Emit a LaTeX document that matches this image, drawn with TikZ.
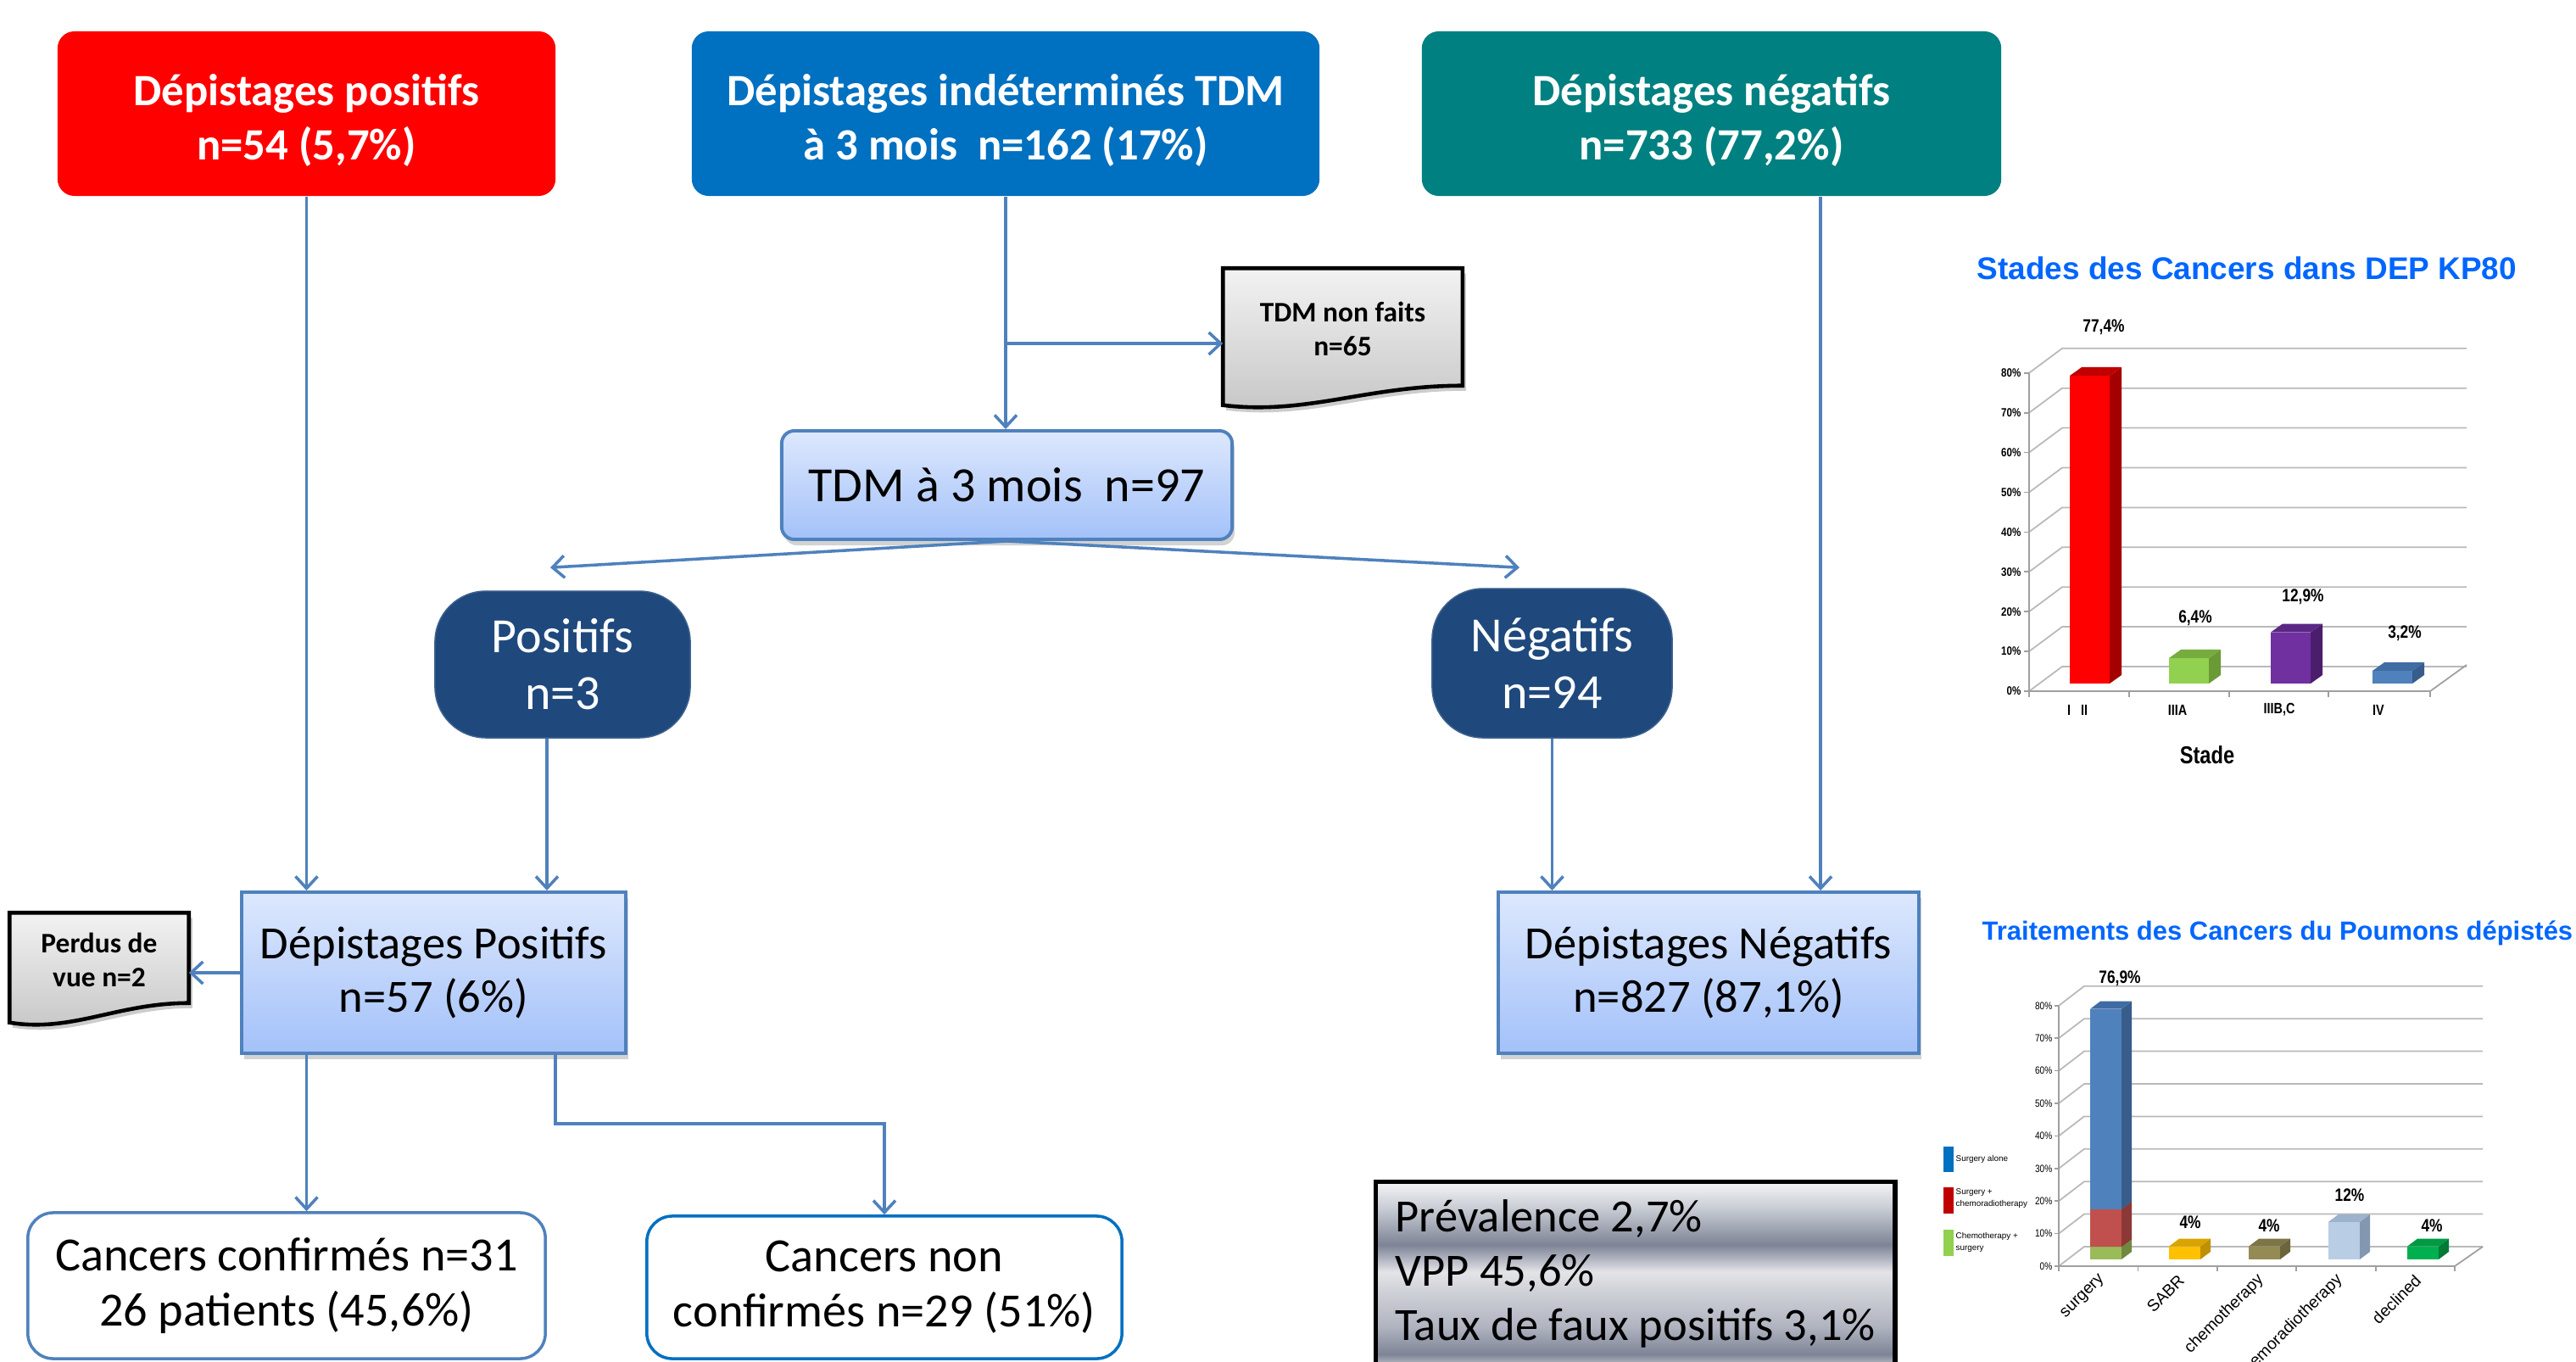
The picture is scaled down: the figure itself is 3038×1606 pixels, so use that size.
\documentclass[tikz,border=0pt]{standalone}
\usepackage{fontspec}
\setmainfont{Carlito}
\newfontfamily\chartfont{Liberation Sans}
\newfontfamily\narrowfont[FakeStretch=0.82]{Liberation Sans}
\usetikzlibrary{arrows.meta,shadows,calc}

\definecolor{redbox}{HTML}{FF0000}
\definecolor{bluebox}{HTML}{0070C0}
\definecolor{tealbox}{HTML}{008080}
\definecolor{navy}{HTML}{1F497D}
\definecolor{lineblue}{HTML}{4F81BD}
\definecolor{lighttop}{HTML}{DDE8FD}
\definecolor{lightbot}{HTML}{A3C1F9}
\definecolor{titleblue}{HTML}{0066FF}
\definecolor{metalT}{HTML}{F4F4F6}
\definecolor{metalH}{HTML}{E6E7EB}
\definecolor{metalG}{HTML}{C8CCD4}
\definecolor{metalB}{HTML}{7E8496}
\definecolor{metalC}{HTML}{B0B4C0}
\definecolor{metalW}{HTML}{E4E4E8}
\definecolor{metalL}{HTML}{D0D2D8}
\definecolor{metalD}{HTML}{D8D8DC}
\definecolor{metalE}{HTML}{E0E0E2}
\definecolor{bredF}{HTML}{FF0000}\definecolor{bredS}{HTML}{A50000}\definecolor{bredT}{HTML}{C00000}
\definecolor{bgreenF}{HTML}{92D050}\definecolor{bgreenS}{HTML}{6A9A36}\definecolor{bgreenT}{HTML}{76AC3E}
\definecolor{bpurpleF}{HTML}{7030A0}\definecolor{bpurpleS}{HTML}{4A1E6C}\definecolor{bpurpleT}{HTML}{5B2786}
\definecolor{bblueF}{HTML}{4F81BD}\definecolor{bblueS}{HTML}{385D8A}\definecolor{bblueT}{HTML}{3F6CA3}
\definecolor{sredF}{HTML}{C0504D}\definecolor{sredS}{HTML}{8C3836}\definecolor{sredT}{HTML}{A33F3C}
\definecolor{sgreenF}{HTML}{9BBB59}\definecolor{sgreenS}{HTML}{71893F}\definecolor{sgreenT}{HTML}{86A34A}
\definecolor{syellowF}{HTML}{FFC000}\definecolor{syellowS}{HTML}{BF9000}\definecolor{syellowT}{HTML}{D9A300}
\definecolor{soliveF}{HTML}{948A54}\definecolor{soliveS}{HTML}{6B643C}\definecolor{soliveT}{HTML}{7D7546}
\definecolor{slightF}{HTML}{B9CDE5}\definecolor{slightS}{HTML}{8497B0}\definecolor{slightT}{HTML}{9DB2CC}
\definecolor{sdgreenF}{HTML}{00B050}\definecolor{sdgreenS}{HTML}{007A37}\definecolor{sdgreenT}{HTML}{009944}
\definecolor{legblue}{HTML}{0070C0}
\definecolor{legred}{HTML}{C00000}
\definecolor{leggreen}{HTML}{92D050}

\pgfdeclareverticalshading{metal}{100bp}{color(0bp)=(metalE); color(25bp)=(metalE);
	color(32bp)=(metalD); color(35.6bp)=(metalB); color(41.9bp)=(metalC); color(50.2bp)=(metalL);
	color(54.4bp)=(metalW); color(57.5bp)=(metalC); color(60.6bp)=(metalB); color(69bp)=(metalG);
	color(73bp)=(metalH); color(75bp)=(metalT); color(100bp)=(metalT)}

\pgfdeclarelayer{paper}
\pgfdeclarelayer{notes}
\pgfsetlayers{paper,notes,main}

\tikzset{
	topbox/.style={rounded corners=0.2cm, text=white, align=center, inner sep=0pt,
		minimum height=1.94cm, font=\fontsize{15}{18.2}\selectfont\bfseries},
	lightbox/.style={draw=lineblue, line width=1.1pt, top color=lighttop, bottom color=lightbot,
		align=center, inner sep=0pt,
		drop shadow={shadow xshift=0.03cm, shadow yshift=-0.07cm, opacity=0.35}},
	darkbox/.style={fill=navy, draw=navy!85!white, rounded corners=0.6cm, text=white,
		align=center, inner sep=0pt, font=\fontsize{16.5}{19}\selectfont},
	whitebox/.style={draw=lineblue, line width=1pt, fill=white, rounded corners=0.3cm,
		align=center, inner sep=0pt, font=\fontsize{16}{18.5}\selectfont},
	notebox/.style={draw=black, line width=1.3pt, top color=gray!10, bottom color=gray!45,
		drop shadow={shadow xshift=0.04cm, shadow yshift=-0.06cm, opacity=0.4}},
	notetext/.style={align=center, inner sep=0pt, font=\fontsize{9.5}{11.5}\selectfont\bfseries},
	arr/.style={draw=lineblue, line width=1pt, -{Straight Barb[length=1.4mm,width=2.6mm]}},
	gridline/.style={draw=gray!55, line width=0.5pt},
	axisline/.style={draw=gray!75, line width=0.5pt},
	valab/.style={inner sep=0pt, font=\narrowfont\bfseries\fontsize{6}{7}\selectfont},
	ylab/.style={inner sep=0pt, font=\narrowfont\bfseries\fontsize{4}{5}\selectfont},
	ylabs/.style={inner sep=0pt, font=\narrowfont\fontsize{3.5}{4}\selectfont},
	catlab/.style={inner sep=0pt, font=\narrowfont\bfseries\fontsize{5}{6}\selectfont},
	rotlab/.style={inner sep=0pt, rotate=45, anchor=east, font=\chartfont\fontsize{5.5}{6}\selectfont},
	legtext/.style={inner sep=0pt, anchor=west, align=left, font=\chartfont\fontsize{2.8}{4}\selectfont}
}

\newcommand\chartbar[7]{%
	\fill[#5] (#1,#3) rectangle (#1+#2,#4);
	\fill[#6] (#1+#2,#3) -- (#1+#2+\bdx,#3-\bdy) -- (#1+#2+\bdx,#4-\bdy) -- (#1+#2,#4) -- cycle;
	\fill[#7] (#1,#4) -- (#1+\bdx,#4-\bdy) -- (#1+#2+\bdx,#4-\bdy) -- (#1+#2,#4) -- cycle;}

\newcommand\notepath[1]{%
	\draw[notebox] (#1.north west) -- (#1.north east) -- ([yshift=0.05cm]#1.south east)
		.. controls ($(#1.south west)!0.6!(#1.south east)+(0,0.05cm)$)
		and ($(#1.south west)!0.35!(#1.south east)+(0,-0.3cm)$) .. ([yshift=-0.18cm]#1.south west) -- cycle;}

\newcommand\topstrut{\rule{0pt}{14.8pt}}

\begin{document}
\begin{tikzpicture}[x=0.01cm,y=-0.01cm]
	\useasboundingbox (0,0) rectangle (3038,1606);
	\begin{pgfonlayer}{paper}
		\fill[white] (0,0) rectangle (3038,1606);
	\end{pgfonlayer}

	\node[topbox, fill=redbox, minimum width=5.87cm] (dpos) at (361.5,134) {\topstrut Dépistages positifs\\n=54 (5,7\%)};
	\node[topbox, fill=bluebox, minimum width=7.40cm] (dind) at (1186,134) {\topstrut Dépistages indéterminés TDM\\à 3 mois~ n=162 (17\%)};
	\node[topbox, fill=tealbox, minimum width=6.83cm] (dneg) at (2018.5,134) {\topstrut Dépistages négatifs\\n=733 (77,2\%)};

	\node[lightbox, rounded corners=0.15cm, minimum width=5.31cm, minimum height=1.28cm,
		font=\fontsize{16.5}{19}\selectfont] (tdm) at (1187.5,572) {TDM à 3 mois~ n=97};
	\node[notetext, minimum width=2.81cm, minimum height=1.42cm] (nofait) at (1583.5,388) {TDM non faits\\n=65};

	\node[darkbox, minimum width=3.01cm, minimum height=1.73cm] (tpos) at (663.5,783.5) {Positifs\\n=3};
	\node[darkbox, minimum width=2.83cm, minimum height=1.76cm] (tneg) at (1830.5,782) {Négatifs\\n=94};

	\node[lightbox, minimum width=4.53cm, minimum height=1.90cm, font=\fontsize{15.5}{18}\selectfont] (rpos) at (511.5,1147) {Dépistages Positifs\\n=57 (6\%)};
	\node[lightbox, minimum width=4.96cm, minimum height=1.90cm, font=\fontsize{15.5}{18}\selectfont] (rneg) at (2015,1147) {Dépistages Négatifs\\n=827 (87,1\%)};
	\node[notetext, minimum width=2.10cm, minimum height=1.10cm] (perdus) at (117,1132) {Perdus de\\vue n=2};

	\node[whitebox, minimum width=6.10cm, minimum height=1.72cm] (conf) at (338,1516) {Cancers confirmés n=31\\26 patients (45,6\%)};
	\node[whitebox, draw=bluebox, minimum width=5.60cm, minimum height=1.68cm] (nonconf) at (1043,1518) {Cancers non\\confirmés n=29 (51\%)};

	\node[draw=black, line width=1.5pt, shading=metal, anchor=north west, align=left,
		inner xsep=0.22cm, inner ysep=0.21cm, minimum width=6.12cm,
		font=\fontsize{15.5}{18.2}\selectfont] (stats) at (1620,1391)
		{Prévalence 2,7\%\\VPP 45,6\%\\Taux de faux positifs 3,1\%\rule[-0.5cm]{0pt}{0.5cm}};

	\begin{pgfonlayer}{notes}
		\notepath{nofait}
		\notepath{perdus}
	\end{pgfonlayer}

	\coordinate (nfin) at ([yshift=-0.17cm]nofait.west);
	\coordinate (tpin) at ([xshift=-0.145cm,yshift=0.27cm]tpos.north);
	\coordinate (tnin) at ([xshift=-0.385cm,yshift=0.24cm]tneg.north);
	\coordinate (tpout) at ([xshift=-0.185cm]tpos.south);
	\coordinate (dnout) at ([xshift=1.285cm]dneg.south);
	\coordinate (rpout) at ([xshift=1.435cm]rpos.south);

	\draw[arr] (dpos.south) -- (dpos.south |- rpos.north);
	\draw[arr] (dind.south) -- (dind.south |- tdm.north);
	\draw[arr] (dind.south |- nfin) -- (nfin);
	\draw[arr] (dnout) -- (dnout |- rneg.north);
	\draw[arr] (tdm.south) -- (tpin);
	\draw[arr] (tdm.south) -- (tnin);
	\draw[arr] (tpout) -- (tpout |- rpos.north);
	\draw[arr] (tneg.south) -- (tneg.south |- rneg.north);
	\draw[arr] (rpos.west) -- (rpos.west -| perdus.east);
	\draw[arr] (dpos.south |- rpos.south) -- (dpos.south |- conf.north);
	\draw[arr] (rpout) -- ([yshift=-0.81cm]rpout) -| (nonconf.north);

	% stades
	\node[inner sep=0pt, text=titleblue, font=\chartfont\bfseries\fontsize{10.5}{12}\selectfont] (title1) at (2650,316) {Stades des Cancers dans DEP KP80};
	\foreach \k in {0,...,8}{
		\pgfmathtruncatemacro\pct{10*\k}
		\draw[gridline] (2393,815-46.9*\k) -- (2432,786-46.9*\k) -- (2909,786-46.9*\k);
		\draw[axisline] (2387,815-46.9*\k) -- (2393,815-46.9*\k);
		\node[ylab, anchor=east] at (2384,815-46.9*\k) {\pct\%};
	}
	\draw[axisline] (2393,440) -- (2393,815) -- (2866,815) -- (2909,784);
	\foreach \x in {2393,2511,2629,2746,2866}
		\draw[axisline] (\x,815) -- (\x,822);
	\def\bdx{14}\def\bdy{10}
	\foreach \x/\v/\c in {2441/77.4/bred,2558/6.4/bgreen,2678/12.9/bpurple,2798/3.2/bblue}
		\chartbar{\x}{47}{806}{806-4.69*\v}{\c F}{\c S}{\c T};
	\node[valab] at (2481,386) {77,4\%};
	\node[valab] at (2589,729) {6,4\%};
	\node[valab] at (2716,704) {12,9\%};
	\node[valab] at (2836,747) {3,2\%};
	\node[catlab] at (2450,837) {I~~~II};
	\node[catlab] at (2568,837) {IIIA};
	\node[catlab] at (2688,837) {IIIB,C};
	\node[catlab] at (2805,837) {IV};
	\node[inner sep=0pt, font=\narrowfont\bfseries\fontsize{8.2}{9}\selectfont] at (2603,890) {Stade};

	% traitements
	\node[inner sep=0pt, anchor=west, text=titleblue, font=\chartfont\bfseries\fontsize{8.8}{10}\selectfont] (title2) at (2337,1100) {Traitements des Cancers du Poumons dépistés};
	\foreach \k in {0,...,8}{
		\pgfmathtruncatemacro\pct{10*\k}
		\draw[gridline] (2428,1493-38.4*\k) -- (2458,1470-38.4*\k) -- (2928,1470-38.4*\k);
		\draw[axisline] (2423,1493-38.4*\k) -- (2428,1493-38.4*\k);
		\node[ylabs, anchor=east] at (2421,1493-38.4*\k) {\pct\%};
	}
	\draw[axisline] (2428,1186) -- (2428,1493) -- (2895,1493) -- (2928,1470);
	\foreach \j in {0,...,5}
		\draw[axisline] (2428+93.4*\j,1493) -- (2428+93.4*\j,1499);
	\def\bdx{12}\def\bdy{9}
	\chartbar{2465}{37}{1485}{1470.4}{sgreenF}{sgreenS}{sgreenT}
	\chartbar{2465}{37}{1470.4}{1425.9}{sredF}{sredS}{sredT}
	\chartbar{2465}{37}{1425.9}{1189.7}{bblueF}{bblueS}{bblueT}
	\foreach \x/\v/\c in {2558/4/syellow,2652/4/solive,2746/11.5/slight,2839/4/sdgreen}
		\chartbar{\x}{37}{1485}{1485-3.84*\v}{\c F}{\c S}{\c T};
	\node[valab] at (2500,1154) {76,9\%};
	\node[valab] at (2583,1441) {4\%};
	\node[valab] at (2676,1445) {4\%};
	\node[valab] at (2771,1409) {12\%};
	\node[valab] at (2868,1445) {4\%};
	\node[rotlab] at (2480,1506) {surgery};
	\node[rotlab] at (2573,1506) {SABR};
	\node[rotlab] at (2667,1506) {chemotherapy};
	\node[rotlab] at (2760,1506) {chemoradiotherapy};
	\node[rotlab] at (2852,1506) {declined};
	\fill[legblue] (2292,1352) rectangle (2304,1382);
	\fill[legred] (2292,1400) rectangle (2304,1431);
	\fill[leggreen] (2292,1450) rectangle (2304,1481);
	\node[legtext] at (2306,1367) {Surgery alone};
	\node[legtext] at (2306,1413) {Surgery +\\chemoradiotherapy};
	\node[legtext] at (2306,1465) {Chemotherapy +\\surgery};
\end{tikzpicture}
\end{document}
